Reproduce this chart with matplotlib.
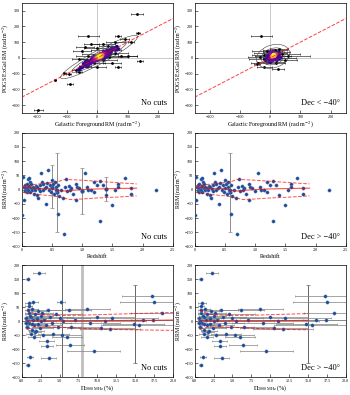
import numpy as np
import matplotlib
matplotlib.use("Agg")
import matplotlib.pyplot as plt
from matplotlib.patches import Ellipse

plt.rcParams['font.family'] = ['Liberation Serif', 'DejaVu Serif']
plt.rcParams['mathtext.fontset'] = 'stix'

# ---- top row: Galactic foreground RM vs POGS ExGal RM ----
# dense core (coloured by local density)
core_all_x = [0, 5, 8, 3, -5, 10, 12, 15, -10, -8, 20, 25, -15, -20, 18, 2, 6, -3, 30, 35,
              -25, -30, 40, -35, 45, -40, 50, -45, 55, -50, 28, -18, 14, -12, 22, 9, 1, 4, 7, 11,
              -2, 16, 24, -6, 33, -28, 60, -55, 38, -22, 65, -60, 48, -38, 30, -10, 20, 42, -32, 70,
              4, 9, 13, 6, 2, 17, 11, 7, -1, 3]
core_all_y = [5, 10, 12, 0, -5, 15, 8, 20, -12, 0, 25, 18, -20, -15, 30, -8, 18, 8, 35, 28,
              -30, -22, 45, -40, 38, -50, 55, -38, 62, -60, 10, -5, 2, -25, 40, 25, 15, -12, 3, 22,
              -15, 12, 30, -18, 45, -40, 50, -62, 20, -35, 70, -75, 60, -25, 5, 10, -5, 25, -55, 55,
              8, 14, 16, 11, 6, 18, 10, 4, 2, 12]
# outliers / sources with error bars
eb_all_x = [130, -30, 70, 135, 140, 70, -90, -140, -195, -95, -110, 60, -20, 20, -40, 0, 30, -50,
            60, 10, -30, 80, 40, -60, 20, -10, 50, -40, 0, -70, 100, 110, -60, 90, 35, -15]
eb_all_y = [280, 140, 138, 155, -20, -55, -165, -140, -330, -105, -95, 100, 90, 85, 70, 60, 50, 45,
            30, 25, 15, 10, 5, -10, -15, -30, -35, -50, -60, -75, 10, 100, -90, 120, 75, -5]
eb_all_err = [20, 35, 10, 6, 10, 10, 10, 4, 15, 8, 5, 30, 25, 40, 30, 45, 50, 30,
              40, 60, 40, 50, 60, 25, 45, 35, 30, 20, 30, 15, 30, 10, 10, 15, 30, 40]

core_s_x = [10, 8, 12, 5, 15, 0, 20, 10, -5, 25, 18, 2, 14, -8, 30, 6, 22, -12, 28, -3, 35, 10, -15, 0,
            9, 11, 7, 13]
core_s_y = [15, 10, 20, 5, 12, 0, 25, -10, 15, 5, -5, 25, 30, -5, 20, -18, -15, 10, 35, -25, 0, 40, -15, 35,
            14, 18, 12, 16]
eb_s_x = [-30, 30, -10, 20, 0, 40, -20, 60, 10, -35, 30, -20, 50, 0, -40, 20, -20, 25, -45, 15]
eb_s_y = [140, 55, 45, 35, 30, 25, 20, 15, 10, 5, 0, -10, -15, -25, -30, -35, -55, -70, -40, 50]
eb_s_err = [35, 30, 50, 45, 55, 60, 40, 70, 60, 40, 55, 50, 40, 45, 25, 30, 25, 20, 10, 40]

# ---- middle row: redshift vs RRM ----
z = [0.0, 0.02, 0.03, 0.04, 0.05, 0.05, 0.06, 0.07, 0.08, 0.08, 0.09, 0.1, 0.1, 0.11, 0.12, 0.12,
     0.13, 0.14, 0.15, 0.16, 0.17, 0.18, 0.2, 0.2, 0.22, 0.23, 0.25, 0.25, 0.27, 0.28, 0.3, 0.3,
     0.32, 0.33, 0.35, 0.36, 0.38, 0.4, 0.4, 0.42, 0.44, 0.45, 0.47, 0.48, 0.5, 0.5, 0.52, 0.53,
     0.55, 0.56, 0.57, 0.58, 0.6, 0.6, 0.62, 0.65, 0.68, 0.7, 0.72, 0.73, 0.75, 0.78, 0.8, 0.82,
     0.85, 0.9, 0.9, 0.92, 0.95, 1.0, 1.05, 1.08, 1.1, 1.15, 1.2, 1.2, 1.25, 1.3, 1.3, 1.35, 1.4,
     1.5, 1.55, 1.6, 1.6, 1.7, 1.8, 1.8, 2.22]
rrm_z = [-90, 45, -35, 10, 0, 15, -5, 5, 20, -10, 0, 38, 8, -3, 40, 12,
         -8, 25, 5, 18, -2, 10, -15, 5, 0, 12, -20, 8, -28, 3, 15, -5,
         60, 28, -2, 20, 5, -52, 10, 22, 70, 0, 15, -8, 35, 5, 18, -15,
         25, 10, -3, 0, 15, -85, -22, 0, -30, -155, 8, 38, -5, 12, 0, 5,
         -15, -38, 18, 10, 5, -5, 60, 10, -3, 0, -10, 25, 15, 30, -110, 15, -18,
         -55, -3, 18, 10, 42, 5, -15, 0]
# sources with large RRM errors (north = Dec > -40)
z_eb = [0.5, 0.59, 1.0, 1.4]
rrm_eb = [10, -10, -5, 3]
rrm_err_eb = [75, 140, 80, 42]
north_eb = [0, 1, 0, 0]
# running median and scatter
z_trend = [0.02, 0.1, 0.2, 0.3, 0.4, 0.5, 0.6, 0.7, 0.8, 1.0, 1.2, 1.4, 1.6, 1.9]
z_med = [5, 8, 5, 3, 5, 3, -2, -5, -3, 0, 2, 3, 4, 5]
z_up = [12, 15, 18, 20, 22, 25, 28, 35, 35, 33, 30, 27, 24, 20]
z_lo = [-10, -12, -15, -18, -20, -22, -25, -30, -35, -33, -30, -28, -26, -22]

# ---- bottom row: polarisation fraction vs RRM ----
pi = [0.8, 0.8, 1.1, 2.3, 1.0, 1.5, 5.2, 0.6, 0.7, 0.9, 1.0, 1.2, 1.3, 1.4, 1.5, 1.6, 1.7, 1.8,
      2.0, 2.1, 2.2, 2.4, 2.5, 2.6, 2.8, 3.0, 3.2, 3.3, 3.4, 3.5, 3.6, 3.8, 4.0, 4.2, 4.5, 4.8,
      5.0, 5.3, 5.5, 6.0, 6.2, 6.4, 6.5, 7.0, 9.5, 8.7, 9.0, 10.0, 10.5, 11.0, 11.7, 12.0, 14.8,
      15.5, 16.0, 17.3, 17.5, 18.5, 17.4, 0.7, 1.1, 1.3, 0.9, 1.9, 2.7, 0.6, 1.6, 2.0, 0.8, 1.2]
rrm_pi = [150, -155, -128, 172, 65, 68, 68, 10, -20, 30, -5, 15, -30, 45, 5, -15, 25, -40,
          10, -10, 35, -25, 0, 20, -50, 5, -15, -72, -87, 40, -130, 15, -5, -45, 25, -20,
          10, -50, 0, -58, 40, -85, -20, 5, -108, 43, -5, 15, -25, 0, -28, 10, -10,
          -15, 5, 90, 70, 28, 5, 0, 20, -10, 55, -35, 30, -5, -55, 8, 40, -45]
pi_err = [0.2, 0.2, 0.4, 0.8, 0.5, 0.6, 0.5, 0.3, 0.3, 0.5, 0.4, 0.6, 0.5, 0.7, 0.8, 1.0, 1.2, 0.8,
          1.5, 1.3, 1.0, 1.8, 2.0, 1.6, 1.2, 2.5, 2.0, 1.0, 0.8, 2.2, 1.0, 3.0, 2.5, 2.0, 3.5, 3.0,
          4.0, 2.5, 5.0, 2.0, 3.0, 1.8, 4.0, 5.0, 3.5, 3.0, 4.0, 5.0, 4.5, 5.5, 4.0, 6.0, 4.0,
          5.0, 4.5, 4.0, 4.5, 4.0, 3.0, 0.3, 0.5, 0.6, 0.4, 1.0, 1.5, 0.3, 0.8, 1.2, 0.4, 0.6]
north_pi = [1] * 70
north_pi[6] = 0
north_pi[5] = 0
# sources with large RRM errors
pi_veb = [5.3, 8.0, 15.0]
rrm_veb = [0, 0, -10]
rrm_err_veb = [250, 250, 140]
north_veb = [0, 0, 1]
pi_trend = [0.7, 1.2, 2.0, 3.0, 5.0, 7.5, 10.0, 12.5, 15.0, 17.5, 20.0]
pi_med = [3, 2, 0, 0, 1, 1, 2, 2, 3, 3, 4]
pi_up = [40, 32, 25, 22, 20, 21, 23, 25, 27, 29, 31]
pi_lo = [-30, -25, -20, -20, -22, -25, -28, -30, -31, -32, -33]

BLUE = '#1f4e96'
TXT = 6
LAB = 4.3


def style(ax):
    ax.tick_params(direction='in', length=2, width=0.4, labelsize=3.0, pad=1.2)
    for s in ax.spines.values():
        s.set_linewidth(0.5)


def density(x, y, r=12.0):
    x = np.asarray(x, float)
    y = np.asarray(y, float)
    d = np.hypot(x[:, None] - x[None, :], y[:, None] - y[None, :])
    return (d < r).sum(axis=1)


def top_panel(ax, cx, cy, ex, ey, ee, label):
    ax.axhline(0, color='0.7', lw=0.5, zorder=0)
    ax.axvline(0, color='0.7', lw=0.5, zorder=0)
    ax.errorbar(ex, ey, xerr=ee, fmt='o', color='k', ms=1.0, lw=0.4, capsize=1.0,
                capthick=0.4, zorder=2)
    cx = np.asarray(cx, float)
    cy = np.asarray(cy, float)
    dens = density(cx, cy)
    order = np.argsort(dens)
    ax.scatter(cx[order], cy[order], c=dens[order], cmap='plasma', s=8, lw=0, zorder=3)
    mean = [cx.mean(), cy.mean()]
    cov = np.cov(cx, cy)
    vals, vecs = np.linalg.eigh(cov)
    ang = np.degrees(np.arctan2(vecs[1, 1], vecs[0, 1]))
    for n in (2.0, 3.2, 4.5):
        w, h = 2 * n * np.sqrt(vals[1]), 2 * n * np.sqrt(vals[0])
        ax.add_patch(Ellipse(mean, w, h, angle=ang, fill=False, ec='0.25', lw=0.4, zorder=4))
    lim = np.array([-250, 250])
    ax.plot(lim, lim, ls='--', color='red', alpha=0.75, lw=0.7, zorder=5)
    ax.set_xlim(-250, 250)
    ax.set_ylim(-350, 350)
    ax.set_xticks([-200, -100, 0, 100, 200])
    ax.set_yticks([-300, -200, -100, 0, 100, 200, 300])
    ax.set_xlabel(r'Galactic Foreground RM (rad m$^{-2}$)', fontsize=LAB, labelpad=1)
    ax.set_ylabel(r'POGS ExGal RM (rad m$^{-2}$)', fontsize=LAB, labelpad=0.5)
    ax.text(0.96, 0.05, label, transform=ax.transAxes, ha='right', va='bottom', fontsize=TXT)
    style(ax)


def mid_panel(ax, north, label):
    ax.scatter(z, rrm_z, s=6, color=BLUE, lw=0.2, ec='#6a8fc7', zorder=3)
    for zi, ri, ei, ni in zip(z_eb, rrm_eb, rrm_err_eb, north_eb):
        if north and not ni:
            continue
        ax.errorbar([zi], [ri], yerr=[ei], fmt='o', color=BLUE, ecolor='0.55', ms=2,
                    lw=0.7, capsize=1.2, capthick=0.5, zorder=2)
    ax.plot(z_trend, z_med, color='red', alpha=0.7, lw=0.8, zorder=4)
    ax.plot(z_trend, z_up, color='red', alpha=0.7, lw=0.7, ls='--', zorder=4)
    ax.plot(z_trend, z_lo, color='red', alpha=0.7, lw=0.7, ls='--', zorder=4)
    ax.set_xlim(0, 2.5)
    ax.set_ylim(-200, 200)
    ax.set_xticks([0, 0.5, 1.0, 1.5, 2.0, 2.5])
    ax.set_xticklabels(['0', '0.5', '1.0', '1.5', '2.0', '2.5'])
    ax.set_yticks(range(-200, 201, 50))
    ax.set_xlabel('Redshift', fontsize=LAB, labelpad=1)
    ax.set_ylabel(r'RRM (rad m$^{-2}$)', fontsize=LAB, labelpad=0.5)
    ax.text(0.96, 0.05, label, transform=ax.transAxes, ha='right', va='bottom', fontsize=TXT)
    style(ax)


def bot_panel(ax, north, label):
    px = np.asarray(pi, float)
    py = np.asarray(rrm_pi, float)
    pe = np.asarray(pi_err, float)
    keep = np.ones(len(px), bool) if not north else np.asarray(north_pi, bool)
    ax.errorbar(px[keep], py[keep], xerr=pe[keep], fmt='none', ecolor='0.5', lw=0.5,
                capsize=1.0, capthick=0.4, zorder=2)
    for xi, ri, ei, ni in zip(pi_veb, rrm_veb, rrm_err_veb, north_veb):
        if north and not ni:
            continue
        lw = 2.0 if xi == 8.0 else 0.7
        col = '0.75' if xi == 8.0 else '0.4'
        ax.errorbar([xi], [ri], yerr=[ei], fmt='none', ecolor=col, lw=lw, capsize=1.2,
                    capthick=0.5, zorder=1)
    if north:
        tx, tm, tu, tl = pi_trend[:-2], pi_med[:-2], pi_up[:-2], pi_lo[:-2]
    else:
        tx, tm, tu, tl = pi_trend, pi_med, pi_up, pi_lo
    ax.plot(tx, tm, color='red', alpha=0.7, lw=0.8, zorder=4)
    ax.plot(tx, tu, color='red', alpha=0.7, lw=0.7, ls='--', zorder=4)
    ax.plot(tx, tl, color='red', alpha=0.7, lw=0.7, ls='--', zorder=4)
    ax.scatter(px[keep], py[keep], s=6, color=BLUE, lw=0.2, ec='#6a8fc7', zorder=3)
    ax.set_xlim(0, 20)
    ax.set_ylim(-200, 200)
    ax.set_xticks(np.arange(0, 20.1, 2.5))
    ax.set_yticks(range(-200, 201, 50))
    ax.set_xlabel(r'$\Pi_{2000\,\mathrm{MHz}}$ (%)', fontsize=LAB, labelpad=0.5)
    ax.set_ylabel(r'RRM (rad m$^{-2}$)', fontsize=LAB, labelpad=0.5)
    ax.text(0.96, 0.05, label, transform=ax.transAxes, ha='right', va='bottom', fontsize=TXT)
    style(ax)


fig = plt.figure(figsize=(3.5, 3.95), dpi=100)
xl, xr, w = 0.062, 0.556, 0.432
ax1 = fig.add_axes([xl, 0.714, w, 0.279])
ax2 = fig.add_axes([xr, 0.714, w, 0.279])
ax3 = fig.add_axes([xl, 0.376, w, 0.288])
ax4 = fig.add_axes([xr, 0.376, w, 0.288])
ax5 = fig.add_axes([xl, 0.045, w, 0.284])
ax6 = fig.add_axes([xr, 0.045, w, 0.284])

top_panel(ax1, core_all_x, core_all_y, eb_all_x, eb_all_y, eb_all_err, 'No cuts')
top_panel(ax2, core_s_x, core_s_y, eb_s_x, eb_s_y, eb_s_err, 'Dec < \u221240\u00b0')
mid_panel(ax3, False, 'No cuts')
mid_panel(ax4, True, 'Dec > \u221240\u00b0')
bot_panel(ax5, False, 'No cuts')
bot_panel(ax6, True, 'Dec > \u221240\u00b0')

fig.savefig('out.png', dpi=100)
